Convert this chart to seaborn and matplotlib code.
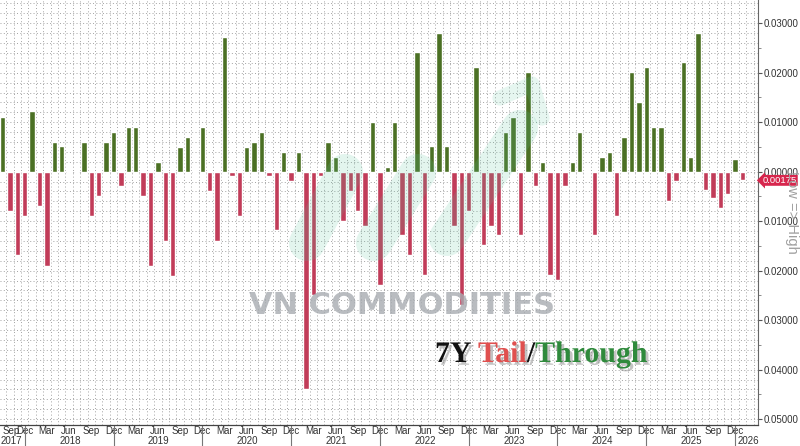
import numpy as np
import pandas as pd
import matplotlib
matplotlib.use("Agg")
import matplotlib.pyplot as plt
import matplotlib.transforms as mtransforms
import matplotlib.patheffects as pe
from matplotlib.lines import Line2D
import seaborn as sns

# 7Y auction tail (-) / through (+), monthly from Sep 2017 to Jan 2026
start_month = "2017-09"
values = [
    0.0111, -0.0080, -0.0168, -0.0089, 0.0122, -0.0069, -0.0190, 0.0061, 0.0051, 0.0000,
    0.0000, 0.0061, -0.0089, -0.0049, 0.0061, 0.0081, -0.0029, 0.0090, 0.0090, -0.0049,
    -0.0190, 0.0020, -0.0140, -0.0210, 0.0050, 0.0070, 0.0000, 0.0090, -0.0039, -0.0140,
    0.0272, -0.0008, -0.0089, 0.0050, 0.0061, 0.0081, -0.0008, -0.0117, 0.0040, -0.0018,
    0.0040, -0.0439, -0.0249, -0.0008, 0.0061, 0.0030, -0.0099, -0.0039, -0.0080, -0.0109,
    0.0101, -0.0229, 0.0010, 0.0101, -0.0128, -0.0168, 0.0241, -0.0209, 0.0051, 0.0281,
    0.0051, -0.0109, -0.0269, -0.0080, 0.0211, -0.0149, -0.0109, -0.0128, 0.0081, 0.0111,
    -0.0128, 0.0201, -0.0029, 0.0020, -0.0209, -0.0219, -0.0029, 0.0020, 0.0081, 0.0000,
    -0.0128, 0.0030, 0.0040, -0.0089, 0.0070, 0.0201, 0.0141, 0.0211, 0.0090, 0.0090,
    -0.0059, -0.0018, 0.0221, 0.0030, 0.0281, -0.0036, -0.0054, -0.0074, -0.0045, 0.0026,
    -0.00175,
]
last_label = "0.00175"
month_names = ["Mar", "Jun", "Sep", "Dec"]
title_parts = [("7Y ", "#111111"), ("Tail", "#e0504f"), ("/", "#111111"), ("Through", "#2f8a3c")]

GREEN = "#4b7d17"
RED = "#d7264d"
SANS = ["Liberation Sans", "DejaVu Sans"]

months = pd.period_range(start_month, periods=len(values), freq="M")
df = pd.DataFrame({"k": np.arange(len(values)), "value": values})
df["sign"] = np.where(df["value"] >= 0, "through", "tail")

sns.set_style("white")
plt.rcParams["font.family"] = SANS
fig = plt.figure(figsize=(8, 4.46), dpi=100)
ax = fig.add_axes([0.0, 0.047, 0.9475, 0.953])

# dotted background grid
for y in np.arange(-0.052, 0.036, 0.002):
    ax.axhline(y, color="#a2a2a2", lw=0.7, ls=(0, (1, 2.4)), zorder=0)
for x in np.arange(-0.5, len(values) + 2, 1):
    ax.axvline(x, color="#a2a2a2", lw=0.7, ls=(0, (1, 2.4)), zorder=0)

sns.barplot(data=df, x="k", y="value", hue="sign", palette={"through": GREEN, "tail": RED},
            dodge=False, width=0.72, errorbar=None, legend=False, ax=ax, zorder=3)

ax.set_xlim(-0.34, 102.1)
ax.set_ylim(-0.0512, 0.0347)
ax.set_xlabel("")
ax.set_ylabel("")

for s in ["left", "top"]:
    ax.spines[s].set_visible(False)
ax.spines["right"].set_color("#666666")
ax.spines["bottom"].set_color("#444444")
ax.spines["right"].set_linewidth(0.8)
ax.spines["bottom"].set_linewidth(0.9)

# right axis
ax.yaxis.tick_right()
yt = np.arange(-0.05, 0.031, 0.01)
ax.set_yticks(yt)
ax.set_yticklabels([f"{abs(v):.5f}" for v in yt])
ax.set_yticks(np.arange(-0.045, 0.035, 0.01), minor=True)
ax.tick_params(axis="y", which="major", length=3, width=0.8, color="#555555",
               labelsize=7, labelcolor="#333333", pad=1)
ax.tick_params(axis="y", which="minor", length=2, width=0.6, color="#777777")

# month ticks
tick_k = [i for i, m in enumerate(months) if m.strftime("%b") in month_names]
ax.set_xticks(tick_k)
ax.set_xticklabels([months[i].strftime("%b") for i in tick_k])
ax.tick_params(axis="x", length=2, direction="in", color="#666666", labelsize=7,
               labelcolor="#333333", pad=1)
ax.get_xticklabels()[0].set_ha("left")

# year row
trans = mtransforms.blended_transform_factory(ax.transData, ax.transAxes)
years = sorted(set(m.year for m in months))
for yr in years:
    ks = [i for i, m in enumerate(months) if m.year == yr]
    if yr == years[0]:
        xpos, ha = -0.3, "left"
    elif yr == years[-1]:
        xpos, ha = ks[0] - 0.6, "left"
    else:
        xpos, ha = (ks[0] + ks[-1]) / 2 - 0.4, "center"
    ax.text(xpos, -0.038, str(yr), transform=trans, ha=ha, va="center", fontsize=7,
            color="#333333", clip_on=False)
    if yr != years[0]:
        ax.plot([ks[0] - 1, ks[0] - 1], [0, -0.06], transform=trans, color="#777777",
                lw=0.8, clip_on=False)

# faint logo watermark
for (xa, ya), (xb, yb) in [((307, 243), (345, 172)), ((374, 243), (418, 172)),
                            ((447, 238), (520, 128))]:
    fig.add_artist(Line2D([xa / 800, xb / 800], [1 - ya / 446, 1 - yb / 446], lw=26,
                          color="#5cc4a0", alpha=0.17, solid_capstyle="round", zorder=4))
fig.add_artist(Line2D([500 / 800, 532 / 800, 542 / 800], [1 - 98 / 446, 1 - 84 / 446, 1 - 118 / 446],
                      lw=11, color="#5cc4a0", alpha=0.15, solid_capstyle="round",
                      solid_joinstyle="round", zorder=4))

# last value label
trans_y = mtransforms.blended_transform_factory(ax.transAxes, ax.transData)
ax.text(1.006, values[-1], last_label, transform=trans_y, ha="left", va="center",
        fontsize=6.8, color="white", zorder=6, clip_on=False,
        bbox=dict(boxstyle="larrow,pad=0.1", fc=RED, ec="none"))

fig.text(792 / 800, 1 - 212 / 446, "Low => High", rotation=270, ha="center", va="center",
         fontsize=10.5, color="#a0a0a0")

# watermark text
fig.text(402 / 800, 1 - 306 / 446, "VN COMMODITIES", ha="center", va="center",
         fontsize=22, fontweight="bold", family=["DejaVu Sans"], color="#a8acb1",
         alpha=0.8, zorder=5)

# title built from coloured pieces
fig.canvas.draw()
renderer = fig.canvas.get_renderer()
x0 = 435 / 800
for txt, col in title_parts:
    t = fig.text(x0, 1 - 362 / 446, txt, fontsize=21.5, fontweight="bold",
                 family=["Liberation Serif", "DejaVu Serif"], color=col, va="baseline",
                 path_effects=[pe.withSimplePatchShadow(offset=(2, -2), shadow_rgbFace="#888888", alpha=0.5)])
    bb = t.get_window_extent(renderer)
    x0 += bb.width / fig.bbox.width

fig.savefig("out.png", dpi=100)
